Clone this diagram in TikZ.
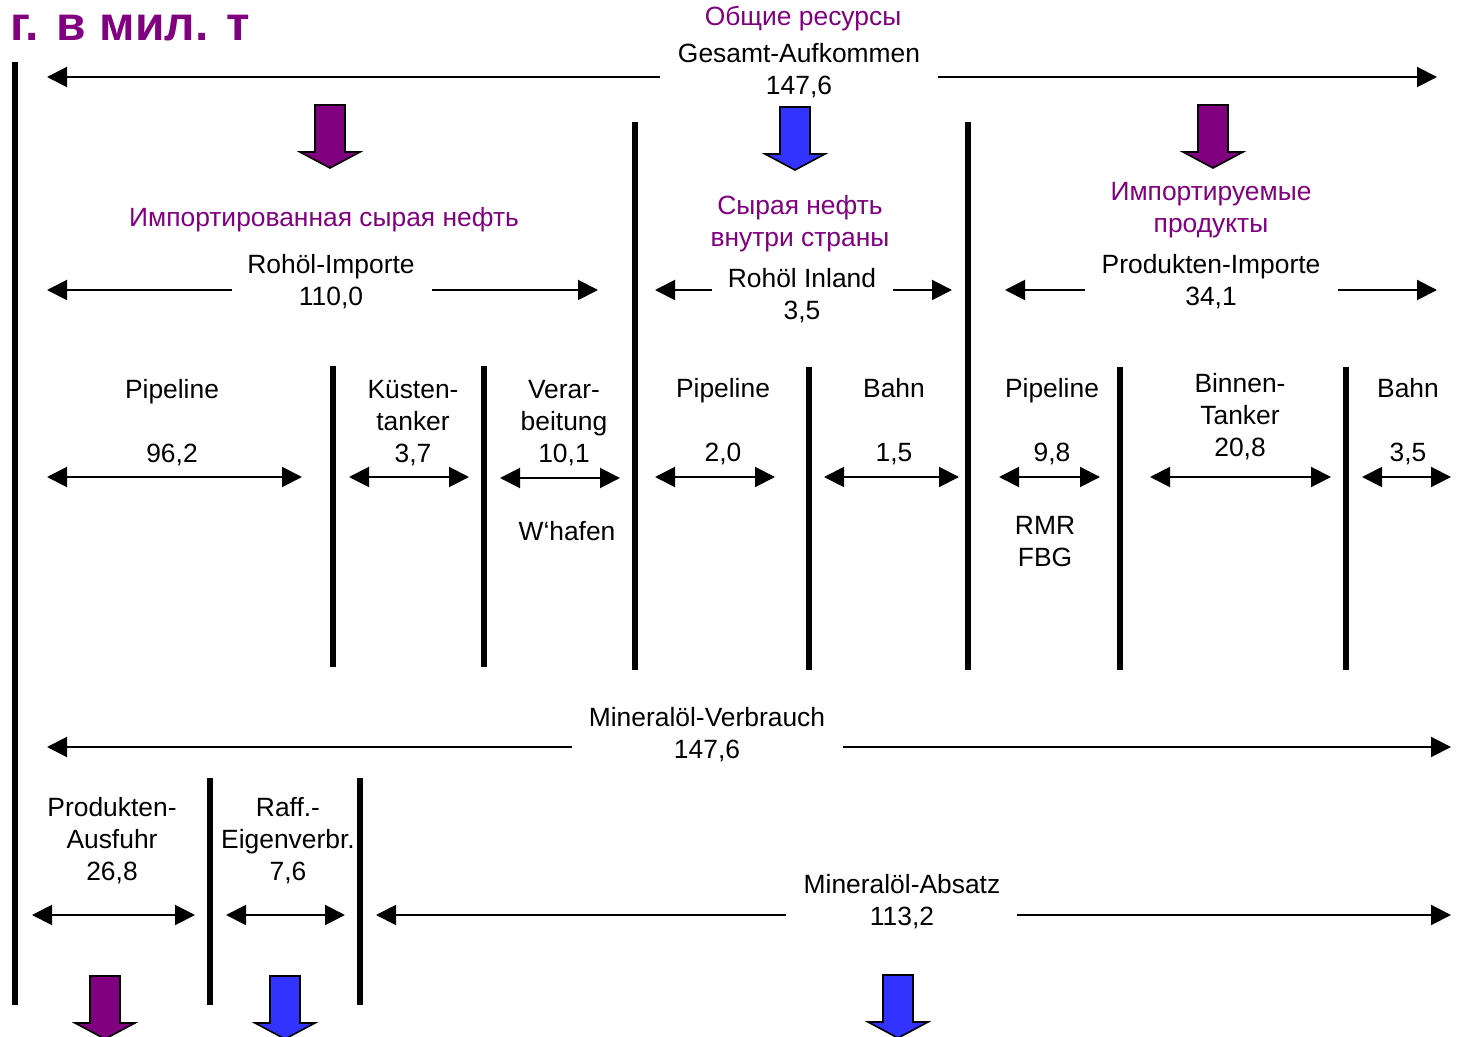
\documentclass[tikz,border=0pt]{standalone}
\usepackage{fontspec}
\setmainfont{Liberation Sans}
\usetikzlibrary{arrows.meta}
\definecolor{rupurple}{RGB}{128,0,128}
\definecolor{flowblue}{RGB}{51,51,255}

\begin{document}
\begin{tikzpicture}[x=0.5pt, y=-0.5pt,
        lbl/.style={align=center, inner sep=0pt, yshift=-1pt, font=\fontsize{13.2}{16}\selectfont},
        rulbl/.style={lbl, text=rupurple},
        gap/.style={inner sep=0pt, minimum height=1pt},
        bar/.style={line width=3pt},
        arr/.style={line width=1pt, -{Triangle[length=10pt,width=10pt]}},
        darr/.style={line width=1pt, {Triangle[length=10pt,width=10pt]}-{Triangle[length=10pt,width=10pt]}},
        blk/.style={draw=black, line width=0.8pt, line join=miter}
    ]
        \useasboundingbox (0,0) rectangle (1462,1037);

        \node[inner sep=0pt, text=rupurple, font=\fontsize{24}{28}\selectfont\bfseries] (unit) at (130,28) {г. в мил. т};

        % thick separators
        \foreach \x/\ya/\yb in {15/62/1005, 333/366/667, 484/366/667, 635/122/670, 809/367/670,
                                968/122/670, 1120/367/670, 1346/367/670, 210/778/1005, 360/778/1005}
            \draw[bar] (\x,\ya) -- (\x,\yb);

        % block arrows
        \foreach \cx/\ty/\col in {330/105/rupurple, 795/107/flowblue, 1213/105/rupurple,
                                  105/976/rupurple, 285/976/flowblue, 898/975/flowblue}
            \draw[blk, fill=\col] (\cx-15,\ty) -- (\cx+15,\ty) -- (\cx+15,\ty+47) -- (\cx+30,\ty+47)
                -- (\cx,\ty+63) -- (\cx-30,\ty+47) -- (\cx-15,\ty+47) -- cycle;

        % total resources
        \node[rulbl] (obsh) at (803,17) {Общие ресурсы};
        \node[lbl] (gesamt) at (799,69) {Gesamt-Aufkommen\\147,6};
        \node[gap, minimum width=139pt] (gesgap) at (799,77) {};
        \coordinate (gesL) at (47,77);
        \coordinate (gesR) at (1437,77);
        \draw[arr] (gesgap.west) -- (gesL);
        \draw[arr] (gesgap.east) -- (gesR);

        % imports and inland
        \node[rulbl] (rucrude) at (324,218) {Импортированная сырая нефть};
        \node[lbl] (crude) at (331,280) {Rohöl-Importe\\110,0};
        \node[gap, minimum width=100pt] (crudegap) at (332,290) {};
        \coordinate (crudeL) at (47,290);
        \coordinate (crudeR) at (598,290);
        \draw[arr] (crudegap.west) -- (crudeL);
        \draw[arr] (crudegap.east) -- (crudeR);

        \node[rulbl] (ruinland) at (800,222) {Сырая нефть\\внутри страны};
        \node[lbl] (inland) at (802,294) {Rohöl Inland\\3,5};
        \node[gap, minimum width=90.5pt] (inlandgap) at (802.5,290) {};
        \coordinate (inlandL) at (655,290);
        \coordinate (inlandR) at (952,290);
        \draw[arr] (inlandgap.west) -- (inlandL);
        \draw[arr] (inlandgap.east) -- (inlandR);

        \node[rulbl] (ruprod) at (1211,208) {Импортируемые\\продукты};
        \node[lbl] (prod) at (1211,280) {Produkten-Importe\\34,1};
        \node[gap, minimum width=126.5pt] (prodgap) at (1211.5,290) {};
        \coordinate (prodL) at (1005,290);
        \coordinate (prodR) at (1437,290);
        \draw[arr] (prodgap.west) -- (prodL);
        \draw[arr] (prodgap.east) -- (prodR);

        % transport modes
        \node[lbl] (pipe1) at (172,421) {Pipeline\\[16pt]96,2};
        \node[lbl] (kuest) at (413,421) {Küsten-\\tanker\\3,7};
        \node[lbl] (verar) at (564,421) {Verar-\\beitung\\10,1};
        \node[lbl] (whafen) at (567,529) {W‘hafen};
        \node[lbl] (pipe2) at (723,420) {Pipeline\\[16pt]2,0};
        \node[lbl] (bahn1) at (894,420) {Bahn\\[16pt]1,5};
        \node[lbl] (pipe3) at (1052,420) {Pipeline\\[16pt]9,8};
        \node[lbl] (rmr) at (1045,540) {RMR\\FBG};
        \node[lbl] (binnen) at (1240,415) {Binnen-\\Tanker\\20,8};
        \node[lbl] (bahn2) at (1408,420) {Bahn\\[16pt]3,5};

        \foreach \a/\b/\y [count=\i] in {47/302/477, 349/469/477, 500/620/478, 655/775/477, 824/959/477,
                                          999/1100/477, 1150/1331/477, 1362/1451/477, 32/195/915, 226/345/915} {
            \coordinate (m\i a) at (\a,\y);
            \coordinate (m\i b) at (\b,\y);
            \draw[darr] (m\i a) -- (m\i b);
        }

        % consumption
        \node[lbl] (verbr) at (707,733) {Mineralöl-Verbrauch\\147,6};
        \node[gap, minimum width=135.5pt] (verbrgap) at (707.5,747) {};
        \coordinate (verbrL) at (47,747);
        \coordinate (verbrR) at (1451,747);
        \draw[arr] (verbrgap.west) -- (verbrL);
        \draw[arr] (verbrgap.east) -- (verbrR);

        \node[lbl] (ausfuhr) at (112,839) {Produkten-\\Ausfuhr\\26,8};
        \node[lbl] (eigen) at (288,839) {Raff.-\\Eigenverbr.\\7,6};
        \node[lbl] (absatz) at (902,900) {Mineralöl-Absatz\\113,2};
        \node[gap, minimum width=115.5pt] (absatzgap) at (901.5,915) {};
        \coordinate (absatzL) at (376,915);
        \coordinate (absatzR) at (1451,915);
        \draw[arr] (absatzgap.west) -- (absatzL);
        \draw[arr] (absatzgap.east) -- (absatzR);
    \end{tikzpicture}
\end{document}
